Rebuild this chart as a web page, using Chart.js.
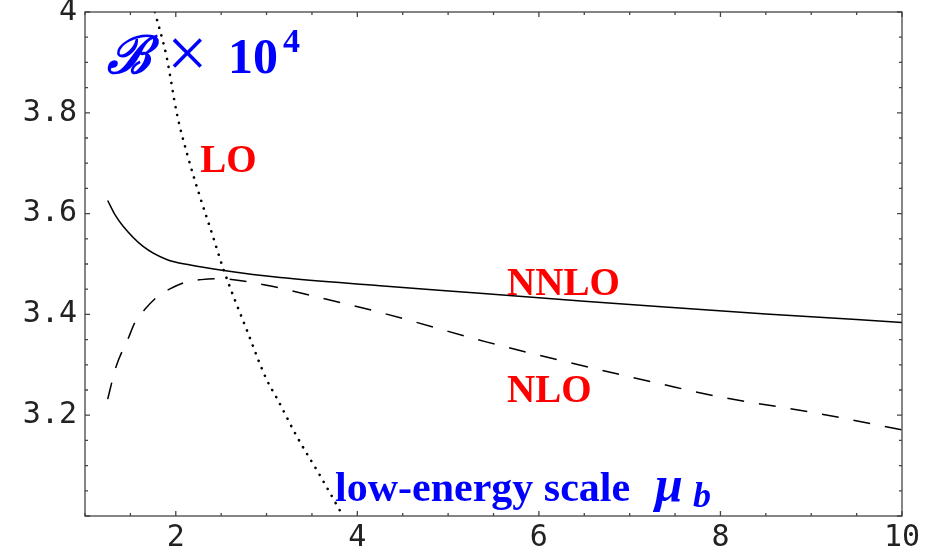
<!DOCTYPE html>
<html>
<head>
<meta charset="utf-8">
<script src="https://cdn.jsdelivr.net/npm/chart.js@4"></script>
<style>
  html, body { margin: 0; padding: 0; background: #fff; }
  #wrap { width: 936px; height: 552px; }
</style>
</head>
<body>
<div id="wrap"><canvas id="chartMu"></canvas></div>
<script>
// values
const nnloX = [1.25, 1.33, 1.42, 1.64, 1.9, 2.16, 2.53, 3.15, 4.25, 5.35, 6.5, 7.35, 8.5, 10];
const nnloY = [3.626, 3.598, 3.575, 3.535, 3.509, 3.498, 3.487, 3.473, 3.457, 3.442, 3.426, 3.415, 3.401, 3.384];

const nloX = [1.25, 1.34, 1.48, 1.55, 1.66, 1.79, 1.93, 2.11, 2.28, 2.46, 3.0, 3.5, 4.25, 5.43, 6.0, 7.37, 8.0, 9.0, 10];
const nloY = [3.232, 3.295, 3.354, 3.384, 3.41, 3.434, 3.45, 3.464, 3.469, 3.471, 3.458, 3.437, 3.404, 3.345, 3.319, 3.261, 3.236, 3.206, 3.171];

const loX = [1.77, 1.9, 2.01, 2.13, 2.26, 2.4, 2.53, 2.78, 3.0, 3.11, 3.33, 3.59, 3.82];
const loY = [4.0, 3.91, 3.80, 3.715, 3.637, 3.56, 3.487, 3.37, 3.271, 3.235, 3.159, 3.08, 3.007];

const xTickLabels = [2, 4, 6, 8, 10];
const yTickLabels = [3.2, 3.4, 3.6, 3.8, 4];

const toPts = (xs, ys) => xs.map((x, i) => ({ x: x, y: ys[i] }));

// frame with inward ticks on all four sides
const framePlugin = {
  id: 'frame',
  afterDraw(chart) {
    const { ctx, chartArea: a, scales: { x, y } } = chart;
    ctx.save();
    ctx.strokeStyle = '#444';
    ctx.lineWidth = 1.3;
    ctx.strokeRect(a.left, a.top, a.right - a.left, a.bottom - a.top);
    ctx.beginPath();
    for (let v = 1; v <= 10.001; v += 0.5) {
      const px = x.getPixelForValue(v);
      const len = Math.abs(v % 2) < 0.01 ? 5 : 3;
      ctx.moveTo(px, a.bottom); ctx.lineTo(px, a.bottom - len);
      ctx.moveTo(px, a.top); ctx.lineTo(px, a.top + len);
    }
    for (let i = 0; i <= 20; i++) {
      const v = 3 + i * 0.05;
      const py = y.getPixelForValue(v);
      const len = i % 4 === 0 ? 5 : 3;
      ctx.moveTo(a.left, py); ctx.lineTo(a.left + len, py);
      ctx.moveTo(a.right, py); ctx.lineTo(a.right - len, py);
    }
    ctx.stroke();
    ctx.restore();
  }
};

// curve names and axis captions
const textPlugin = {
  id: 'texts',
  afterDraw(chart) {
    const { ctx, scales: { x, y } } = chart;
    const at = (vx, vy) => [x.getPixelForValue(vx), y.getPixelForValue(vy)];
    ctx.save();
    ctx.textBaseline = 'alphabetic';
    ctx.textAlign = 'left';

    ctx.fillStyle = '#ff0000';
    ctx.font = 'bold 39px "Liberation Serif", serif';
    let p = at(2.27, 3.683);
    ctx.fillText('LO', p[0], p[1]);
    p = at(5.65, 3.438);
    ctx.fillText('NNLO', p[0], p[1]);
    p = at(5.65, 3.226);
    ctx.fillText('NLO', p[0], p[1]);

    ctx.fillStyle = '#0000ff';
    ctx.font = 'bold 42px "Liberation Serif", serif';
    p = at(3.755, 3.03);
    ctx.fillText('low-energy scale', p[0], p[1]);
    ctx.font = 'italic bold 50px "Liberation Serif", serif';
    ctx.fillText('\u03bc', 655, p[1]);
    ctx.font = 'italic bold 36px "Liberation Serif", serif';
    ctx.fillText('b', 693, p[1] + 6);

    p = at(1.24, 3.879);
    ctx.font = 'italic bold 52px "DejaVu Serif", serif';
    ctx.fillText('\u212c', p[0], p[1]);
    ctx.font = '72px "Liberation Serif", serif';
    ctx.fillText('\u00d7', 167, p[1] + 4);
    ctx.font = 'bold 50px "Liberation Serif", serif';
    ctx.fillText('10', 228, p[1]);
    ctx.font = 'bold 34px "Liberation Serif", serif';
    ctx.fillText('4', 283, p[1] - 21);
    ctx.restore();
  }
};

const lineBase = {
  borderColor: '#000',
  pointRadius: 0,
  fill: false,
  cubicInterpolationMode: 'monotone'
};

const tickFont = { family: '"DejaVu Sans Mono", monospace', size: 30, lineHeight: 1 };

const chartMu = new Chart(document.getElementById('chartMu'), {
  type: 'line',
  data: {
    datasets: [
      Object.assign({ label: 'NNLO', data: toPts(nnloX, nnloY), borderWidth: 1.5 }, lineBase),
      Object.assign({ label: 'NLO', data: toPts(nloX, nloY), borderWidth: 1.5, borderDash: [17, 15] }, lineBase),
      Object.assign({ label: 'LO', data: toPts(loX, loY), borderWidth: 2.6, borderDash: [0.1, 8], borderCapStyle: 'round' }, lineBase)
    ]
  },
  options: {
    responsive: true,
    maintainAspectRatio: false,
    animation: false,
    layout: { padding: { top: 12, right: 34, left: 0, bottom: 0 } },
    plugins: { legend: { display: false }, tooltip: { enabled: false } },
    scales: {
      x: {
        type: 'linear',
        min: 1,
        max: 10,
        afterBuildTicks: (s) => { s.ticks = xTickLabels.map(v => ({ value: v })); },
        afterFit: (s) => { s.height = 36; s.paddingLeft = 0; s.paddingRight = 0; },
        grid: { display: false, drawTicks: false, tickLength: 0 },
        border: { display: false },
        ticks: { padding: 7, maxRotation: 0, color: '#222', font: tickFont }
      },
      y: {
        type: 'linear',
        min: 3,
        max: 4,
        afterBuildTicks: (s) => { s.ticks = yTickLabels.map(v => ({ value: v })); },
        afterFit: (s) => { s.width = 85; s.paddingTop = 0; s.paddingBottom = 0; },
        grid: { display: false, drawTicks: false, tickLength: 0 },
        border: { display: false },
        ticks: {
          padding: 8,
          color: '#222',
          font: tickFont,
          callback: (v) => v === 4 ? '4' : v.toFixed(1)
        }
      }
    }
  },
  plugins: [framePlugin, textPlugin]
});
</script>
</body>
</html>
